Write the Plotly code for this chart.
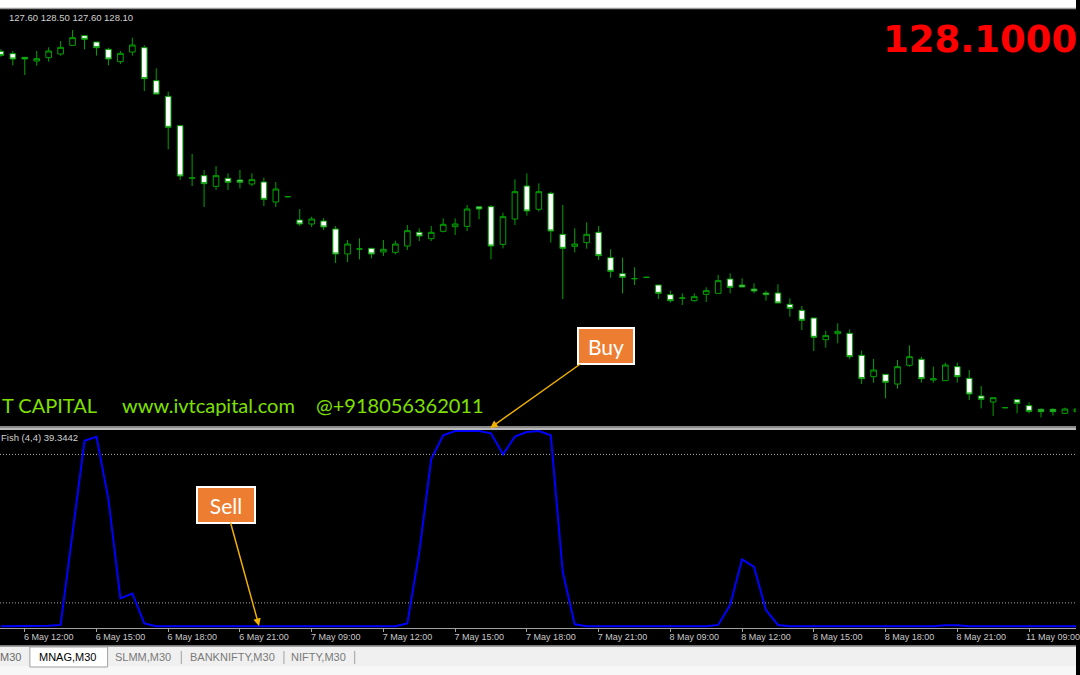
import plotly.graph_objects as go

W, H = 1080, 675

# ---------------- data ----------------
opens = [139.46, 139.39, 139.28, 139.17, 139.27, 139.38, 139.64, 139.93, 139.74, 139.52,
         139.15, 139.44, 139.57, 138.58, 138.11, 137.23, 135.66, 135.73, 135.41, 135.65,
         135.60, 135.48, 135.54, 134.94, 135.10, 134.40, 134.28, 134.37, 134.13, 133.38,
         133.53, 133.55, 133.44, 133.43, 133.62, 134.03, 133.84, 134.06, 134.20, 134.21,
         134.80, 134.80, 133.67, 134.43, 135.42, 134.72, 135.20, 133.97, 133.61, 133.72,
         134.03, 133.27, 132.79, 132.64, 132.68, 132.45, 132.16, 132.06, 131.98, 132.17,
         132.20, 132.63, 132.45, 132.33, 132.21, 132.21, 131.87, 131.69, 131.46, 130.81,
         130.99, 131.00, 130.34, 129.70, 129.77, 129.48, 130.04, 130.22, 129.60, 129.58,
         130.00, 129.65, 129.12, 128.94, 128.77, 129.01, 128.83, 128.72, 128.72, 128.60,
         128.65]
highs = [139.52, 139.47, 139.28, 139.47, 139.58, 139.77, 140.10, 139.93, 139.74, 139.57,
         139.47, 139.87, 139.64, 138.95, 138.25, 137.23, 136.38, 135.90, 136.02, 135.80,
         135.90, 135.80, 135.67, 135.54, 135.12, 134.73, 134.50, 134.46, 134.22, 133.80,
         133.85, 133.55, 133.80, 133.78, 134.25, 134.15, 134.22, 134.45, 134.45, 134.85,
         134.80, 134.85, 134.62, 135.62, 135.80, 135.50, 135.25, 134.85, 134.15, 134.33,
         134.22, 133.52, 133.27, 132.98, 132.70, 132.45, 132.28, 132.20, 132.20, 132.38,
         132.75, 132.80, 132.65, 132.50, 132.28, 132.47, 132.05, 131.82, 131.46, 131.08,
         131.30, 131.12, 130.48, 130.23, 129.77, 130.20, 130.64, 130.30, 130.00, 130.12,
         130.12, 129.90, 129.42, 129.07, 128.79, 129.01, 128.93, 128.75, 128.75, 128.77,
         128.75]
lows = [139.30, 139.04, 138.75, 139.03, 139.15, 139.33, 139.63, 139.52, 139.33, 139.04,
        139.08, 139.33, 138.27, 138.18, 136.52, 135.60, 135.42, 134.79, 135.30, 135.30,
        135.35, 135.42, 134.82, 134.79, 135.08, 134.22, 134.19, 134.10, 133.11, 133.14,
        133.22, 133.25, 133.32, 133.37, 133.50, 133.77, 133.77, 134.03, 133.95, 134.07,
        134.42, 133.22, 133.55, 134.25, 134.53, 134.65, 133.72, 132.03, 133.43, 133.54,
        133.20, 132.67, 132.20, 132.45, 132.66, 132.03, 131.92, 131.85, 131.95, 131.94,
        132.20, 132.20, 132.39, 132.20, 131.98, 131.91, 131.50, 131.10, 130.47, 130.57,
        130.70, 130.22, 129.48, 129.52, 129.05, 129.34, 130.00, 129.52, 129.52, 129.58,
        129.52, 129.00, 128.75, 128.52, 128.75, 128.60, 128.60, 128.48, 128.53, 128.58,
        128.63]
closes = [139.34, 139.23, 139.23, 139.24, 139.47, 139.58, 139.87, 139.82, 139.57, 139.23,
          139.40, 139.65, 138.64, 138.18, 137.18, 135.72, 135.66, 135.49, 135.73, 135.53,
          135.53, 135.61, 135.02, 135.33, 135.10, 134.28, 134.43, 134.19, 133.38, 133.68,
          133.53, 133.38, 133.52, 133.68, 134.08, 133.92, 134.03, 134.27, 134.28, 134.73,
          134.73, 133.62, 134.50, 135.25, 134.67, 135.25, 134.07, 133.55, 133.68, 133.97,
          133.33, 132.86, 132.68, 132.64, 132.68, 132.20, 131.98, 132.06, 132.10, 132.28,
          132.58, 132.38, 132.39, 132.27, 132.16, 131.91, 131.75, 131.39, 130.88, 130.93,
          131.06, 130.30, 129.64, 129.90, 129.53, 130.00, 130.30, 129.64, 129.64, 130.05,
          129.70, 129.18, 129.02, 129.07, 128.77, 128.90, 128.66, 128.65, 128.65, 128.73,
          128.73]
fish = [0, 0, 0, 0, 0.3, 0.7, 48, 95, 97, 65,
        14.3, 16.8, 1.5, 0, 0, 0, 0, 0, 0, 0,
        0, 0, 0, 0, 0, 0, 0, 0, 0, 0,
        0, 0, 0, 0, 1.5, 38, 85.6, 97.8, 100, 100,
        100, 98.8, 88.1, 97.1, 99.5, 100, 97.8, 27.8, 1.0, 0,
        0, 0, 0, 0, 0, 0, 0, 0, 0, 0,
        0.7, 10.9, 34.3, 30.4, 8.3, 0.7, 0, 0, 0, 0,
        0, 0, 0, 0, 0, 0, 0, 0, 0, 0.6,
        0.6, 0, 0, 0, 0, 0, 0, 0, 0, 0,
        0]
fish_levels = [88, 12]
time_labels = ["6 May 12:00", "6 May 15:00", "6 May 18:00", "6 May 21:00",
               "7 May 09:00", "7 May 12:00", "7 May 15:00", "7 May 18:00", "7 May 21:00",
               "8 May 09:00", "8 May 12:00", "8 May 15:00", "8 May 18:00", "8 May 21:00",
               "11 May 09:00"]
header_ohlc = ["127.60", "128.50", "127.60", "128.10"]
last_price = 128.10
fish_name = "Fish (4,4)"
fish_current = 39.3442
watermark = ["T CAPITAL", "www.ivtcapital.com", "@+918056362011"]
tabs = ["M30", "MNAG,M30", "SLMM,M30", "BANKNIFTY,M30", "NIFTY,M30"]

bars = list(range(len(opens)))
first_label_bar = 2
bars_per_label = 6
tickvals = [first_label_bar + bars_per_label * k for k in range(len(time_labels))]


def X(p):
    return p / W


def Y(p):
    return 1 - p / H


GREEN = "#00A000"
fig = go.Figure()
fig.add_trace(go.Candlestick(
    x=bars, open=opens, high=highs, low=lows, close=closes,
    increasing=dict(fillcolor="#000000", line=dict(color=GREEN, width=1)),
    decreasing=dict(fillcolor="#FFFFFF", line=dict(color=GREEN, width=1)),
    whiskerwidth=0, xaxis="x", yaxis="y", hoverinfo="skip"))
fig.add_trace(go.Scatter(
    x=bars, y=fish, mode="lines", line=dict(color="#0000FF", width=2),
    xaxis="x2", yaxis="y2", hoverinfo="skip"))

shapes = []
# top window strip
shapes.append(dict(type="rect", xref="paper", yref="paper", x0=0, x1=1, y0=Y(8), y1=1,
                   fillcolor="#FFFFFF", line=dict(width=0), layer="above"))
shapes.append(dict(type="line", xref="paper", yref="paper", x0=0, x1=1, y0=Y(8.5), y1=Y(8.5),
                   line=dict(color="#9A9A9A", width=1.5), layer="above"))
# panel separator
shapes.append(dict(type="rect", xref="paper", yref="paper", x0=0, x1=1, y0=Y(430), y1=Y(426),
                   fillcolor="#8A8A8A", line=dict(width=0), layer="above"))
shapes.append(dict(type="line", xref="paper", yref="paper", x0=0, x1=1, y0=Y(429), y1=Y(429),
                   line=dict(color="#C8C8C8", width=1.5), layer="above"))
# indicator levels
for lv in fish_levels:
    shapes.append(dict(type="line", xref="paper", yref="y2", x0=0, x1=1, y0=lv, y1=lv,
                       line=dict(color="#A8A8A8", width=1, dash="1px,2px"), layer="below"))
# tab bar
shapes.append(dict(type="rect", xref="paper", yref="paper", x0=0, x1=1, y0=0, y1=Y(645.5),
                   fillcolor="#F0F0F0", line=dict(width=0)))
shapes.append(dict(type="rect", xref="paper", yref="paper", x0=0, x1=1, y0=0, y1=Y(666),
                   fillcolor="#F7F7F7", line=dict(width=0)))
shapes.append(dict(type="line", xref="paper", yref="paper", x0=0, x1=1, y0=Y(646.5), y1=Y(646.5),
                   line=dict(color="#A0A0A0", width=1)))
shapes.append(dict(type="rect", xref="paper", yref="paper", x0=X(30), x1=X(108), y0=Y(667), y1=Y(647),
                   fillcolor="#FFFFFF", line=dict(color="#A0A0A0", width=1)))
for sx in [182, 285, 356]:
    shapes.append(dict(type="line", xref="paper", yref="paper", x0=X(sx), x1=X(sx), y0=Y(664), y1=Y(651),
                       line=dict(color="#A0A0A0", width=1)))

ann = []
ann.append(dict(x=X(7), y=Y(17), xref="paper", yref="paper", xanchor="left", yanchor="middle",
                text=" ".join(header_ohlc), showarrow=False,
                font=dict(family="Liberation Sans", size=9.5, color="#D0D0D0")))
ann.append(dict(x=X(884), y=Y(39), xref="paper", yref="paper", xanchor="left", yanchor="middle",
                text="<b>%.4f</b>" % last_price, showarrow=False,
                font=dict(family="DejaVu Sans", size=37, color="#FF0000")))
for txt, x0 in zip(watermark, [0, 120, 315]):
    ann.append(dict(x=X(x0), y=Y(405), xref="paper", yref="paper", xanchor="left", yanchor="middle",
                    text=txt, showarrow=False,
                    font=dict(family="Comic Sans MS, Lato", size=20, color="#7FE000")))
ann.append(dict(x=X(-1), y=Y(437.5), xref="paper", yref="paper", xanchor="left", yanchor="middle",
                text="%s %.4f" % (fish_name, fish_current), showarrow=False,
                font=dict(family="Liberation Sans", size=9.5, color="#D0D0D0")))
# Buy / Sell call-outs
ann.append(dict(x=X(492), y=Y(428), xref="paper", yref="paper", text="Buy",
                showarrow=True, ax=115.5, ay=-82, arrowhead=2, arrowsize=1, arrowwidth=1.5,
                arrowcolor="#F0B000", bgcolor="#ED7D31", bordercolor="#FFFFFF", borderwidth=2,
                borderpad=0, width=54, height=34,
                font=dict(family="Lato", size=21, color="#FFFFFF")))
ann.append(dict(x=X(260), y=Y(626), xref="paper", yref="paper", text="Sell",
                showarrow=True, ax=-33.5, ay=-121.5, arrowhead=2, arrowsize=1, arrowwidth=1.5,
                arrowcolor="#F0B000", bgcolor="#ED7D31", bordercolor="#FFFFFF", borderwidth=2,
                borderpad=0, width=56, height=34,
                font=dict(family="Lato", size=21, color="#FFFFFF")))
# tabs
tab_pos = [(23, "right", "#6A6A6A"), (68, "center", "#000000"), (144, "center", "#7A7A7A"),
           (233, "center", "#7A7A7A"), (320, "center", "#7A7A7A")]
for t, (tx, anc, col) in zip(tabs, tab_pos):
    ann.append(dict(x=X(tx), y=Y(657), xref="paper", yref="paper", xanchor=anc, yanchor="middle",
                    text=t, showarrow=False,
                    font=dict(family="Liberation Sans", size=11, color=col)))

xr = [-0.07, 89.93]
fig.update_layout(
    width=W, height=H, margin=dict(l=0, r=0, t=0, b=0),
    paper_bgcolor="#000000", plot_bgcolor="#000000", showlegend=False,
    boxgap=0.33,
    xaxis=dict(domain=[0, 1], range=xr, visible=False, anchor="y", rangeslider=dict(visible=False)),
    yaxis=dict(domain=[Y(427), Y(10)], range=[128.19, 140.70], visible=False, anchor="x"),
    xaxis2=dict(domain=[0, 1], range=xr, matches="x", anchor="y2",
                tickmode="array", tickvals=tickvals, ticktext=time_labels,
                ticks="outside", ticklen=3, tickcolor="#A0A0A0", tickwidth=1,
                showline=True, linecolor="#A0A0A0", linewidth=1,
                showgrid=False, zeroline=False, ticklabelshift=24, ticklabelstandoff=-3,
                ticklabeloverflow="allow",
                tickfont=dict(family="Liberation Sans", size=9, color="#C8C8C8")),
    yaxis2=dict(domain=[Y(628), Y(430)], range=[-0.87, 100.51], visible=False, anchor="x2"),
    shapes=shapes, annotations=ann,
)

fig.write_html("out.html", config={"displayModeBar": False},
               post_script=("document.body.style.margin='0px';"
                            "document.body.style.overflow='hidden';"
                            "document.body.style.background='#000';"
                            "document.documentElement.style.overflow='hidden';"
                            "document.documentElement.style.background='#000';"
                            "window.scrollTo(0,0);"))
